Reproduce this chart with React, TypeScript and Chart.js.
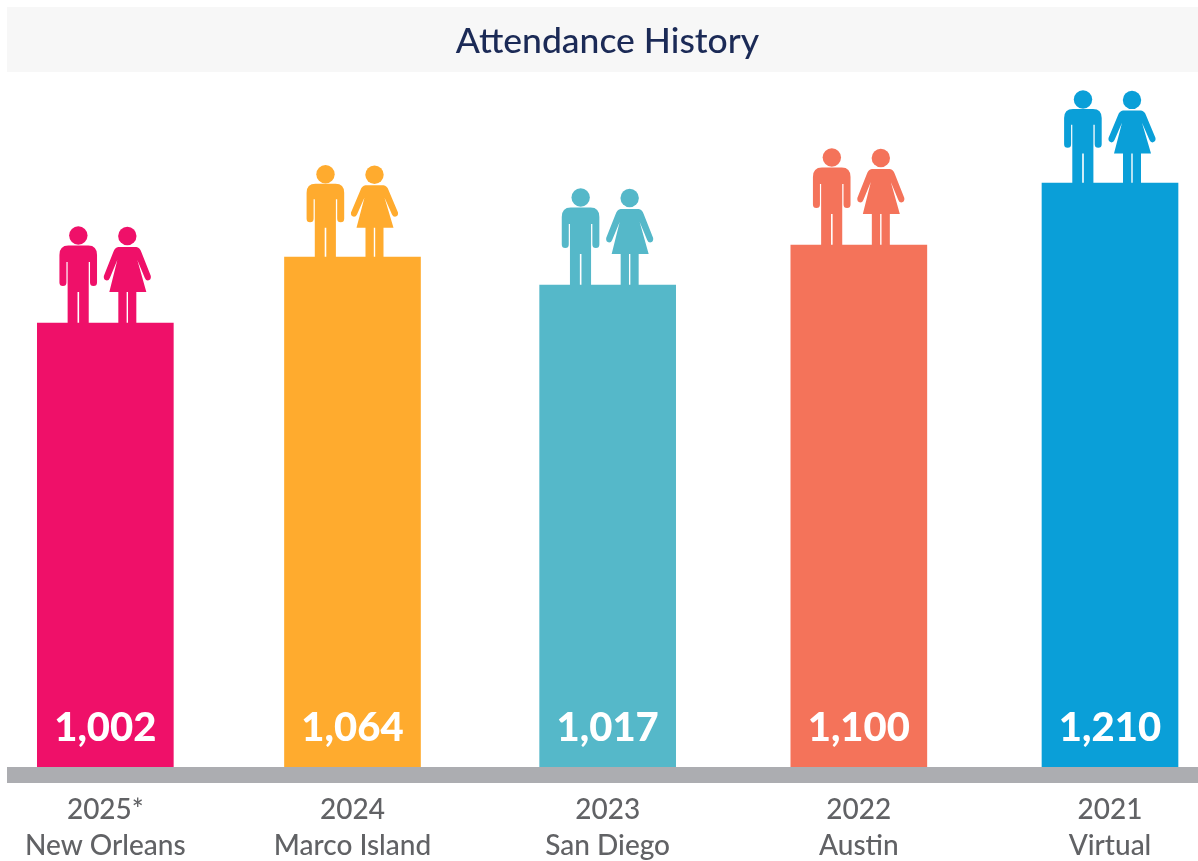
import React, { useEffect, useRef } from "react";
import { Chart, registerables, CategoryScale } from "chart.js";

Chart.register(...registerables);

const years = ["2025*", "2024", "2023", "2022", "2021"];
const venues = ["New Orleans", "Marco Island", "San Diego", "Austin", "Virtual"];
const attendance = [1002, 1064, 1017, 1100, 1210];
// The picture's bars are not drawn to scale with the printed attendance; these are their drawn levels.
const barLevels = [444, 510, 482, 522, 584];
const barColors = ["#EF1069", "#FFAB2E", "#55B8C9", "#F4735A", "#0A9FD8"];

const FONT = "Lato, 'Noto Sans', sans-serif";
// The figures are not all the same height in the picture.
const figureScale = [1, 0.945, 1, 1, 0.955];
// The second column sits slightly left of an even spacing.
const slotNudge = [0, -4, 0, 0, 0];

function drawMan(ctx: CanvasRenderingContext2D, cx: number, top: number, s: number) {
  const X = (v: number) => cx + v;
  const Y = (v: number) => top + v * s;
  ctx.beginPath();
  ctx.arc(X(-27), Y(-87.5), 9.2, 0, Math.PI * 2);
  ctx.fill();
  ctx.beginPath();
  ctx.moveTo(X(-8.3), Y(-68));
  ctx.lineTo(X(-8.3), Y(-40.5));
  ctx.arc(X(-11.8), Y(-40.5), 3.5, 0, Math.PI);
  ctx.lineTo(X(-15.3), Y(-61));
  ctx.lineTo(X(-16.6), Y(-61));
  ctx.lineTo(X(-16.6), Y(0));
  ctx.lineTo(X(-26.2), Y(0));
  ctx.lineTo(X(-26.2), Y(-31));
  ctx.lineTo(X(-27.8), Y(-31));
  ctx.lineTo(X(-27.8), Y(0));
  ctx.lineTo(X(-37.7), Y(0));
  ctx.lineTo(X(-37.7), Y(-61));
  ctx.lineTo(X(-38.9), Y(-61));
  ctx.lineTo(X(-38.9), Y(-40.5));
  ctx.arc(X(-42.4), Y(-40.5), 3.5, 0, Math.PI);
  ctx.lineTo(X(-45.9), Y(-68));
  ctx.quadraticCurveTo(X(-45.9), Y(-77.5), X(-37), Y(-77.5));
  ctx.lineTo(X(-17), Y(-77.5));
  ctx.quadraticCurveTo(X(-8.3), Y(-77.5), X(-8.3), Y(-68));
  ctx.closePath();
  ctx.fill();
}

function drawWoman(ctx: CanvasRenderingContext2D, cx: number, top: number, s: number) {
  const X = (v: number) => cx + v;
  const Y = (v: number) => top + v * s;
  ctx.beginPath();
  ctx.arc(X(22), Y(-87), 9.2, 0, Math.PI * 2);
  ctx.fill();
  ctx.beginPath();
  ctx.moveTo(X(13), Y(-76));
  ctx.lineTo(X(31), Y(-76));
  ctx.quadraticCurveTo(X(34.5), Y(-75.5), X(36), Y(-71));
  ctx.lineTo(X(45.5), Y(-47));
  ctx.quadraticCurveTo(X(46), Y(-43), X(42.5), Y(-42.5));
  ctx.quadraticCurveTo(X(40.5), Y(-42.5), X(39.5), Y(-45));
  ctx.lineTo(X(32), Y(-63));
  ctx.lineTo(X(41), Y(-31));
  ctx.lineTo(X(31), Y(-31));
  ctx.lineTo(X(31), Y(0));
  ctx.lineTo(X(22.7), Y(0));
  ctx.lineTo(X(22.7), Y(-31));
  ctx.lineTo(X(21.3), Y(-31));
  ctx.lineTo(X(21.3), Y(0));
  ctx.lineTo(X(13), Y(0));
  ctx.lineTo(X(13), Y(-31));
  ctx.lineTo(X(4), Y(-31));
  ctx.lineTo(X(12), Y(-63));
  ctx.lineTo(X(4.5), Y(-45));
  ctx.quadraticCurveTo(X(3.5), Y(-42.5), X(1.5), Y(-42.5));
  ctx.quadraticCurveTo(X(-2), Y(-43), X(-1.5), Y(-47));
  ctx.lineTo(X(8), Y(-71));
  ctx.quadraticCurveTo(X(9.5), Y(-75.5), X(13), Y(-76));
  ctx.closePath();
  ctx.fill();
}

const backdrop = {
  id: "backdrop",
  beforeDraw(chart: any) {
    const { ctx, width } = chart;
    ctx.save();
    ctx.fillStyle = "#F7F7F7";
    ctx.fillRect(7, 7, width - 7, 65);
    ctx.restore();
  },
};

const decorations = {
  id: "decorations",
  afterDatasetsDraw(chart: any) {
    const { ctx, width } = chart;
    const base = chart.scales.y.getPixelForValue(0);
    ctx.save();
    ctx.fillStyle = "#ACADB1";
    ctx.fillRect(7, base, width - 7, 16);
    chart.getDatasetMeta(0).data.forEach((bar: any, i: number) => {
      ctx.fillStyle = barColors[i];
      drawMan(ctx, bar.x, bar.y, figureScale[i]);
      drawWoman(ctx, bar.x, bar.y, figureScale[i]);
      ctx.fillStyle = "#FFFFFF";
      ctx.font = `900 40px ${FONT}`;
      ctx.textAlign = "center";
      ctx.textBaseline = "middle";
      ctx.fillText(attendance[i].toLocaleString("en-US"), bar.x, base - 39);
    });
    ctx.restore();
  },
};

export default function App() {
  const ref = useRef<HTMLCanvasElement | null>(null);
  useEffect(() => {
    document.body.style.margin = "0";
    const chart = new Chart(ref.current!, {
      type: "bar",
      data: {
        labels: years.map((y, i) => [y, venues[i]]),
        datasets: [
          {
            data: barLevels,
            backgroundColor: barColors,
            barThickness: 136,
            clip: false,
          } as any,
        ],
      },
      options: {
        responsive: false,
        animation: false,
        layout: { padding: { left: 105, right: 88, top: 0, bottom: 0 } },
        plugins: {
          legend: { display: false },
          tooltip: { enabled: false },
          title: {
            display: true,
            text: "Attendance History",
            color: "#1B2A56",
            font: { family: FONT, size: 35.5, weight: "500", lineHeight: 1.2 },
            padding: { top: 20, bottom: 9.4 },
          },
        },
        scales: {
          x: {
            offset: false,
            grid: { display: false, drawTicks: false },
            border: { display: false },
            ticks: {
              color: "#616265",
              font: { family: FONT, size: 28, weight: "500", lineHeight: 1.286 },
              padding: 25,
              maxRotation: 0,
              autoSkip: false,
            },
            afterBuildTicks(scale: any) {
              scale.getPixelForValue = (v: any) =>
                CategoryScale.prototype.getPixelForValue.call(scale, v) + (slotNudge[v] || 0);
            },
            afterFit(scale: any) {
              scale.height = 94;
            },
          },
          y: {
            display: false,
            min: 0,
            max: 695,
          },
        },
      },
      plugins: [backdrop, decorations],
    } as any);
    return () => chart.destroy();
  }, []);
  return (
    <canvas
      ref={ref}
      width={1198}
      height={861}
      style={{ display: "block", width: 1198, height: 861, background: "#FFFFFF" }}
    />
  );
}
